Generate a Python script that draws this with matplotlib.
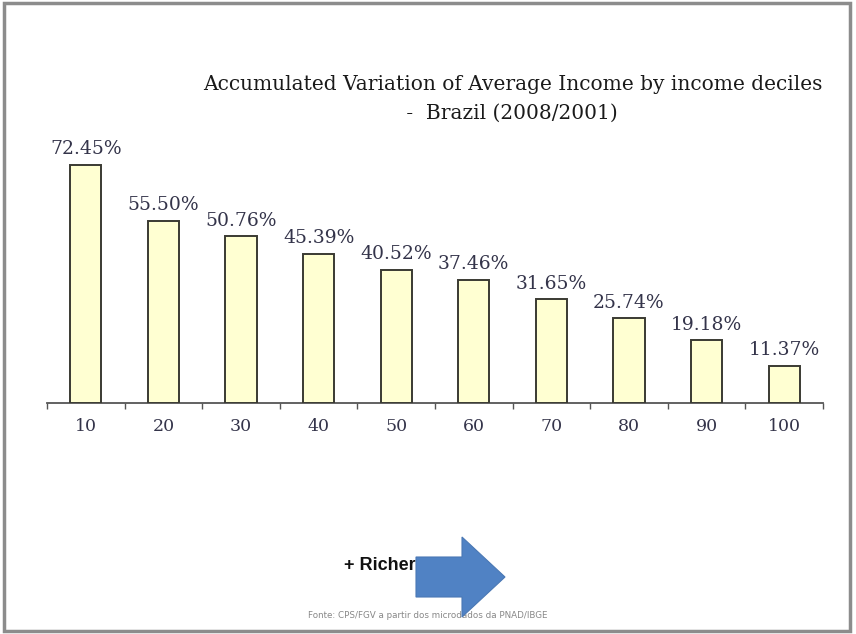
import matplotlib
matplotlib.use('Agg')
import matplotlib.pyplot as plt
from matplotlib.patches import Rectangle, Polygon
import numpy as np

# income deciles and accumulated variation (%) 2008/2001
deciles = ['10', '20', '30', '40', '50', '60', '70', '80', '90', '100']
variation = [72.45, 55.50, 50.76, 45.39, 40.52, 37.46, 31.65, 25.74, 19.18, 11.37]

title_lines = ['Accumulated Variation of Average Income by income deciles',
               ' -  Brazil (2008/2001)']
source_note = 'Fonte: CPS/FGV a partir dos microdados da PNAD/IBGE'

W, H = 856, 634
SERIF = 'DejaVu Serif'


def fx(px):
    return px / W


def fy(py):
    # pixel row measured from top -> figure fraction
    return 1 - py / H


fig = plt.figure(figsize=(W / 100, H / 100), dpi=100)
fig.patch.set_facecolor('white')

ax = fig.add_axes([fx(47), fy(403), fx(823) - fx(47), fy(130) - fy(403)])
x = np.arange(len(deciles))
ax.bar(x, variation, width=0.4, color='#ffffd2', edgecolor='#3a3a32', linewidth=1.4, zorder=3)

for xi, v in zip(x, variation):
    ax.annotate('%.2f%%' % v, (xi, v), xytext=(0, 7.5), textcoords='offset points',
                ha='center', va='baseline', fontsize=13.5, family=SERIF,
                color='#34344a')

ax.set_xlim(-0.5, len(deciles) - 0.5)
ax.set_ylim(0, 83.05)
ax.set_xticks(x)
ax.set_xticklabels(deciles, family=SERIF, fontsize=12.5, color='#34344a')
ax.set_xticks(np.arange(-0.5, len(deciles), 1.0), minor=True)
ax.tick_params(axis='x', which='major', length=0, pad=11)
ax.tick_params(axis='x', which='minor', length=4, width=1, color='#555555', direction='out')
ax.set_yticks([])
for side in ['top', 'left', 'right']:
    ax.spines[side].set_visible(False)
ax.spines['bottom'].set_color('#555555')
ax.spines['bottom'].set_linewidth(1.3)
ax.patch.set_alpha(0)

fig.text(fx(513), fy(84), title_lines[0], ha='center', va='center',
         family=SERIF, fontsize=14.5, color='#1a1a1a')
fig.text(fx(509), fy(113), title_lines[1], ha='center', va='center',
         family=SERIF, fontsize=14.5, color='#1a1a1a')

fig.text(fx(380), fy(566), '+ Richer', ha='center', va='center',
         family='Liberation Sans', fontweight='bold', fontsize=13, color='#111111')

fig.text(fx(428), fy(616), source_note, ha='center', va='center',
         family='DejaVu Sans', fontsize=6.3, color='#888888')

# blue arrow pointing right
arrow_px = [(416, 557), (462, 557), (462, 537), (505, 577), (462, 617), (462, 597), (416, 597)]
fig.patches.append(Polygon([(fx(a), fy(b)) for a, b in arrow_px], closed=True,
                           transform=fig.transFigure, facecolor='#5082c4',
                           edgecolor='#4a78b4', linewidth=0.8, zorder=5))

# slide frame
fig.patches.append(Rectangle((fx(4), fy(631)), fx(850) - fx(4), fy(3) - fy(631),
                             transform=fig.transFigure, fill=False,
                             edgecolor='#8c8c8c', linewidth=2.5, zorder=6))

fig.savefig('out.png', dpi=100)
